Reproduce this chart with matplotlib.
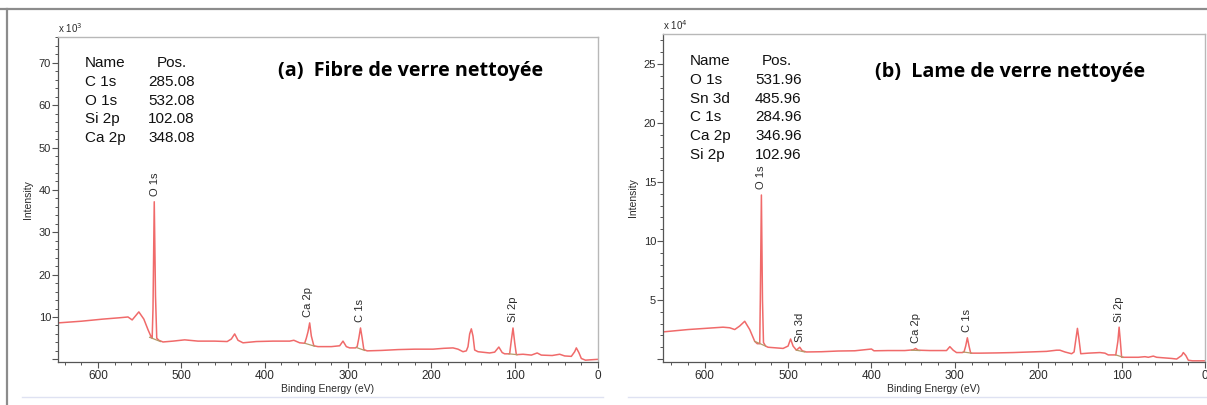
import matplotlib
matplotlib.use("Agg")
import matplotlib.pyplot as plt
from matplotlib.lines import Line2D
from matplotlib.ticker import MultipleLocator, FuncFormatter

# ---------------- data ----------------
# Panel (a): binding energy (eV) and intensity (x 10^3 counts)
a_be = [648, 620, 594, 575, 564, 559, 551, 545, 540, 536, 535, 534, 532.5, 531, 529.5, 527,
        522, 510, 496, 480, 460, 445, 440, 436, 432, 426, 410, 390, 370, 365, 358, 352,
        350, 348, 346, 344, 341, 336, 320, 310, 306, 302, 298, 291, 289, 287, 285, 283, 281,
        277, 260, 240, 220, 198, 185, 174, 168, 162, 158, 156, 154, 152, 150, 148, 144, 130,
        124, 119, 115, 112, 106, 104, 102, 100, 98, 90, 80, 73, 68, 55, 46, 40, 32, 28,
        26, 23, 20, 15, 8, 0]
a_int = [8.6, 9.0, 9.5, 9.8, 10.0, 9.3, 11.2, 9.5, 7.0, 5.2, 5.0, 12.0, 37.2, 15.0, 5.0, 4.5,
         4.1, 4.3, 4.6, 4.3, 4.3, 4.2, 4.8, 6.0, 4.5, 3.9, 4.2, 4.3, 4.3, 4.5, 3.9, 3.8,
         5.0, 6.5, 8.6, 5.5, 3.2, 3.0, 3.0, 3.2, 4.3, 3.0, 2.7, 2.7, 3.0, 5.0, 7.4, 5.0, 2.3,
         2.0, 2.1, 2.3, 2.4, 2.4, 2.6, 2.7, 2.4, 1.8, 2.0, 3.0, 6.0, 7.2, 5.5, 2.2, 1.8, 1.5,
         1.7, 2.9, 1.6, 1.3, 1.3, 4.5, 7.4, 4.0, 1.1, 1.2, 1.0, 1.5, 1.0, 0.9, 1.2, 0.8, 0.7, 1.8,
         2.7, 1.6, 0.2, -0.2, -0.1, 0.0]

# Panel (b): binding energy (eV) and intensity (x 10^4 counts)
b_be = [650, 620, 578, 570, 564, 558, 552, 546, 540, 537, 534, 533.3, 532, 530.7, 529.5, 527,
        524, 515, 506, 500, 497, 494, 490, 486, 483, 478, 460, 440, 420, 400, 397, 380,
        360, 350, 347, 344, 330, 310, 306, 302, 298, 291, 289, 287, 285, 283, 281, 270, 250,
        230, 210, 190, 178, 174, 168, 160, 157, 155, 153, 151, 149, 140, 126, 120, 116, 107,
        104.5, 103, 101.5, 100, 90, 80, 72, 68, 62, 58, 40, 34, 28, 26, 23, 20, 15, 0]
b_int = [2.3, 2.5, 2.7, 2.65, 2.5, 2.8, 3.2, 2.5, 1.5, 1.3, 1.3, 5.0, 13.9, 5.0, 1.4, 1.1,
         1.0, 0.95, 0.9, 1.1, 1.7, 1.1, 0.75, 1.0, 0.7, 0.6, 0.62, 0.68, 0.7, 0.85, 0.7, 0.72,
         0.72, 0.78, 0.9, 0.75, 0.72, 0.72, 1.05, 0.75, 0.55, 0.55, 0.6, 1.1, 1.8, 1.1, 0.5, 0.5, 0.52,
         0.55, 0.6, 0.65, 0.75, 0.75, 0.6, 0.45, 0.6, 1.6, 2.6, 1.6, 0.45, 0.5, 0.55, 0.5, 0.35, 0.35,
         1.5, 2.7, 1.5, 0.15, 0.15, 0.15, 0.2, 0.15, 0.25, 0.15, 0.05, 0.0, 0.3, 0.55, 0.3, -0.1, -0.15, -0.15]

# Shirley backgrounds under fitted peaks: (start BE, end BE, start I, end I)
a_bg = [(538, 525, 5.2, 4.2), (352, 340, 3.8, 3.1), (290, 280, 2.8, 2.1), (107, 97, 1.3, 1.1)]
b_bg = [(540, 527, 1.5, 1.1), (490, 480, 0.75, 0.6), (352, 342, 0.75, 0.72),
        (290, 280, 0.6, 0.5), (107, 98, 0.35, 0.15)]

# Peak tables
a_names = ["C 1s", "O 1s", "Si 2p", "Ca 2p"]
a_pos = [285.08, 532.08, 102.08, 348.08]
b_names = ["O 1s", "Sn 3d", "C 1s", "Ca 2p", "Si 2p"]
b_pos = [531.96, 485.96, 284.96, 346.96, 102.96]

# Peak labels on the spectra (name, BE, peak height)
a_lab_names = ["O 1s", "Ca 2p", "C 1s", "Si 2p"]
a_lab_be = [532.08, 348.08, 285.08, 102.08]
a_lab_h = [37.2, 8.6, 7.4, 7.4]
b_lab_names = ["O 1s", "Sn 3d", "Ca 2p", "C 1s", "Si 2p"]
b_lab_be = [531.96, 485.96, 346.96, 284.96, 102.96]
b_lab_h = [13.9, 1.0, 0.9, 1.8, 2.7]

titles = ["(a)  Fibre de verre nettoyée", "(b)  Lame de verre nettoyée"]
exponents = ["x 10$^3$", "x 10$^4$"]

# ---------------- figure ----------------
W, H = 1207, 405
fig = plt.figure(figsize=(W / 100, H / 100), dpi=100)
plt.rcParams['font.family'] = ['Liberation Sans', 'DejaVu Sans']


def fx(px):
    return px / W


def fy(py):
    return 1 - py / H


# frame lines of the original document
fig.add_artist(Line2D([0, 1], [fy(9), fy(9)], color='#8c8c8c', lw=1.6, transform=fig.transFigure))
fig.add_artist(Line2D([fx(7), fx(7)], [fy(9), 0], color='#8c8c8c', lw=1.6, transform=fig.transFigure))
fig.add_artist(Line2D([fx(22), fx(603)], [fy(397), fy(397)], color='#dfe2f2', lw=1.0, transform=fig.transFigure))
fig.add_artist(Line2D([fx(628), 1], [fy(397), fy(397)], color='#dfe2f2', lw=1.0, transform=fig.transFigure))

curve_col = '#f06a6a'
text_col = '#2a2a2a'

panels = [
    dict(rect=(58, 37, 598, 362), xlim=(648, 0), ylim=(-0.63, 76.1), major=10, minor=2,
         be=a_be, it=a_int, bg=a_bg, names=a_names, pos=a_pos,
         lab=(a_lab_names, a_lab_be, a_lab_h), table_x=(85, 148, 157), table_y0=63, title_xy=(278, 71),
         title=titles[0], expo=exponents[0]),
    dict(rect=(663, 34, 1205, 362), xlim=(650, 0), ylim=(-0.25, 27.54), major=5, minor=1,
         be=b_be, it=b_int, bg=b_bg, names=b_names, pos=b_pos,
         lab=(b_lab_names, b_lab_be, b_lab_h), table_x=(690, 755, 762), table_y0=61, title_xy=(875, 72),
         title=titles[1], expo=exponents[1]),
]

for p in panels:
    x0, y0, x1, y1 = p['rect']
    ax = fig.add_axes([fx(x0), fy(y1), (x1 - x0) / W, (y1 - y0) / H])
    ax.plot(p['be'], p['it'], color=curve_col, lw=1.1, solid_joinstyle='round')
    for (b0, b1, i0, i1) in p['bg']:
        ax.plot([b0, b1], [i0, i1], color='#b59a6a', lw=0.9)
    ax.set_xlim(*p['xlim'])
    ax.set_ylim(*p['ylim'])

    ax.xaxis.set_major_locator(MultipleLocator(100))
    ax.xaxis.set_minor_locator(MultipleLocator(20))
    ax.yaxis.set_major_locator(MultipleLocator(p['major']))
    ax.yaxis.set_minor_locator(MultipleLocator(p['minor']))
    ax.yaxis.set_major_formatter(FuncFormatter(lambda v, _: "" if v <= 0 else f"{v:g}"))
    ax.tick_params(axis='both', which='major', direction='out', length=4, width=0.8,
                   color='#555555', labelsize=8.5, labelcolor=text_col, pad=2)
    ax.tick_params(axis='both', which='minor', direction='out', length=2.5, width=0.7, color='#555555')
    ax.tick_params(axis='y', which='major', labelsize=8, pad=1)

    for s in ('left', 'bottom'):
        ax.spines[s].set_color('#555555')
        ax.spines[s].set_linewidth(0.9)
    for s in ('top', 'right'):
        ax.spines[s].set_color('#b8b8b8')
        ax.spines[s].set_linewidth(1.0)

    ax.set_xlabel("Binding Energy (eV)", fontsize=7.5, color=text_col, labelpad=1)
    ax.set_ylabel("Intensity", fontsize=7.5, color=text_col, labelpad=4)

    # exponent label
    fig.text(fx(x0), fy(y0 - 2), p['expo'], fontsize=7, color=text_col, ha='left', va='bottom')

    # peak labels
    names, bes, hs = p['lab']
    for n, b, h in zip(names, bes, hs):
        ax.annotate(n, (b, h), xytext=(0, 4), textcoords='offset points', rotation=90,
                    ha='center', va='bottom', fontsize=8, color=text_col)

    # table
    nx, vx, px_ = p['table_x']
    ty = p['table_y0']
    dy = 18.8
    fig.text(fx(nx), fy(ty), "Name", fontsize=11, color='#111111', va='center', ha='left')
    fig.text(fx(px_), fy(ty), "Pos.", fontsize=11, color='#111111', va='center', ha='left')
    for i, (n, v) in enumerate(zip(p['names'], p['pos'])):
        yy = ty + dy * (i + 1)
        fig.text(fx(nx), fy(yy), n, fontsize=11, color='#111111', va='center', ha='left')
        fig.text(fx(vx), fy(yy), f"{v:.2f}", fontsize=11, color='#111111', va='center', ha='left')

    # title
    tx, tyy = p['title_xy']
    fig.text(fx(tx), fy(tyy), p['title'], fontsize=14.2, fontweight='bold', color='#000000',
             family=['Open Sans', 'DejaVu Sans'], ha='left', va='center')

fig.savefig("out.png", dpi=100)
